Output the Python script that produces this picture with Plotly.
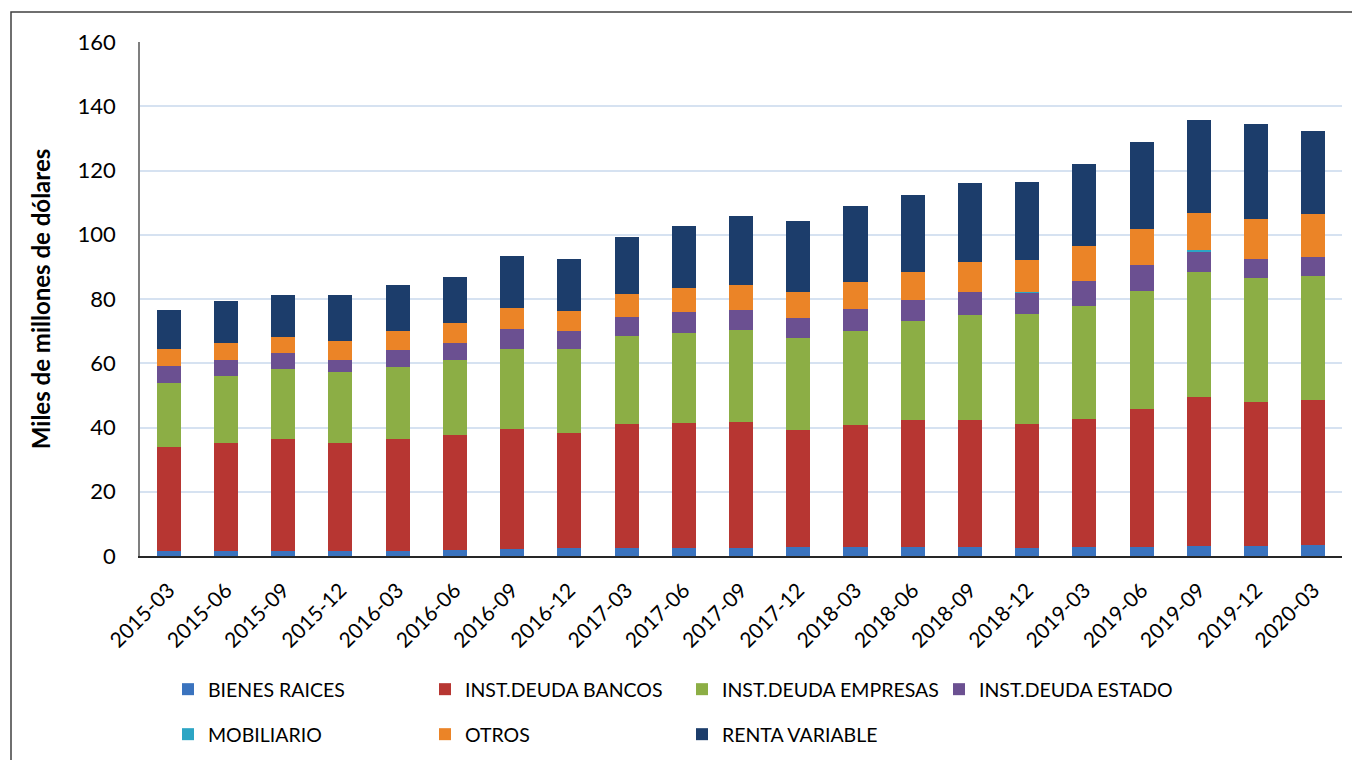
import plotly.graph_objects as go

periodos = ["2015-03", "2015-06", "2015-09", "2015-12", "2016-03", "2016-06", "2016-09",
            "2016-12", "2017-03", "2017-06", "2017-09", "2017-12", "2018-03", "2018-06",
            "2018-09", "2018-12", "2019-03", "2019-06", "2019-09", "2019-12", "2020-03"]

bienes_raices = [1.6, 1.6, 1.6, 1.6, 1.6, 2.0, 2.2, 2.5, 2.5, 2.5, 2.5, 2.8, 2.8, 2.8,
                 2.8, 2.5, 2.8, 2.8, 3.1, 3.1, 3.4]
deuda_bancos = [32.3, 33.6, 34.8, 33.6, 34.8, 35.7, 37.3, 35.8, 38.6, 38.9, 39.2, 36.4, 38.0, 39.5,
                39.5, 38.6, 39.8, 43.0, 46.4, 44.8, 45.2]
deuda_empresas = [20.0, 20.8, 21.8, 22.1, 22.4, 23.3, 24.9, 26.1, 27.4, 28.0, 28.7, 28.7, 29.2, 30.9,
                  32.7, 34.2, 35.2, 36.7, 38.9, 38.6, 38.6]
deuda_estado = [5.2, 5.0, 5.0, 3.7, 5.3, 5.3, 6.3, 5.6, 5.9, 6.6, 6.2, 6.2, 6.9, 6.5,
                7.2, 6.6, 7.8, 8.1, 6.5, 6.0, 5.9]
mobiliario = [0.0, 0.0, 0.0, 0.0, 0.0, 0.0, 0.0, 0.0, 0.0, 0.0, 0.0, 0.0, 0.0, 0.0,
              0.0, 0.2, 0.0, 0.0, 0.4, 0.0, 0.0]
otros = [5.3, 5.3, 5.0, 5.9, 5.9, 6.2, 6.5, 6.3, 7.2, 7.4, 7.8, 8.1, 8.4, 8.7,
         9.3, 10.0, 10.9, 11.2, 11.5, 12.4, 13.4]
renta_variable = [12.2, 13.1, 13.0, 14.3, 14.4, 14.3, 16.2, 16.2, 17.7, 19.3, 21.4, 22.1, 23.6, 24.0,
                  24.6, 24.3, 25.5, 27.1, 28.9, 29.6, 25.8]

series = [
    ("BIENES RAICES", bienes_raices, "#3A73BE", "legend"),
    ("INST.DEUDA BANCOS", deuda_bancos, "#B73632", "legend"),
    ("INST.DEUDA EMPRESAS", deuda_empresas, "#8CAE45", "legend"),
    ("INST.DEUDA ESTADO", deuda_estado, "#6B5091", "legend"),
    ("MOBILIARIO", mobiliario, "#2CA5C4", "legend2"),
    ("OTROS", otros, "#EB8427", "legend2"),
    ("RENTA VARIABLE", renta_variable, "#1C3D6B", "legend2"),
]

FONT = "Lato"
fig = go.Figure()
for name, vals, color, leg in series:
    fig.add_trace(go.Bar(
        x=periodos, y=vals, name=name, legend=leg,
        marker=dict(color=color, line=dict(width=0)),
        width=0.42,
    ))

# page body has an 8px margin, so the figure is 8px smaller than the window
W, H = 1352, 752
L, R, T, B = 132, 18, 34, 204
PW, PH = W - L - R, H - T - B

legend_common = dict(
    orientation="h", xref="container", yref="container",
    xanchor="left", yanchor="top",
    entrywidth=212, entrywidthmode="pixels",
    font=dict(size=19.5, family=FONT), itemwidth=30,
    traceorder="normal",
)

fig.update_layout(
    width=W, height=H,
    barmode="stack",
    paper_bgcolor="white", plot_bgcolor="white",
    margin=dict(l=L, r=R, t=T, b=B),
    font=dict(family=FONT, color="black"),
    xaxis=dict(
        type="category", range=[-0.5, 20.5],
        tickangle=-45, tickfont=dict(size=21, family=FONT),
        showline=True, linecolor="#262626", linewidth=1.5,
        ticks="", showgrid=False, ticklabelstandoff=12,
    ),
    yaxis=dict(
        range=[0, 160], dtick=20,
        tickfont=dict(size=22, family=FONT),
        showline=True, linecolor="#7F7F7F", linewidth=1.5,
        gridcolor="#D6E2F1", gridwidth=2,
        ticks="", ticklabelstandoff=18,
        title=dict(text="<b>Miles de millones de dólares</b>", font=dict(size=24, family=FONT), standoff=20),
        zeroline=False,
    ),
    legend=dict(x=160 / W, y=1 - 662 / H, **legend_common),
    legend2=dict(x=160 / W, y=1 - 707 / H, **legend_common),
    shapes=[dict(type="rect", xref="paper", yref="paper",
                 x0=(3 - L) / PW, x1=(W + 10 - L) / PW,
                 y0=(T + PH - H - 10) / PH, y1=(T + PH - 4) / PH,
                 line=dict(color="#404040", width=1.5), fillcolor="rgba(0,0,0,0)", layer="below")],
)

fig.write_html("out.html")
